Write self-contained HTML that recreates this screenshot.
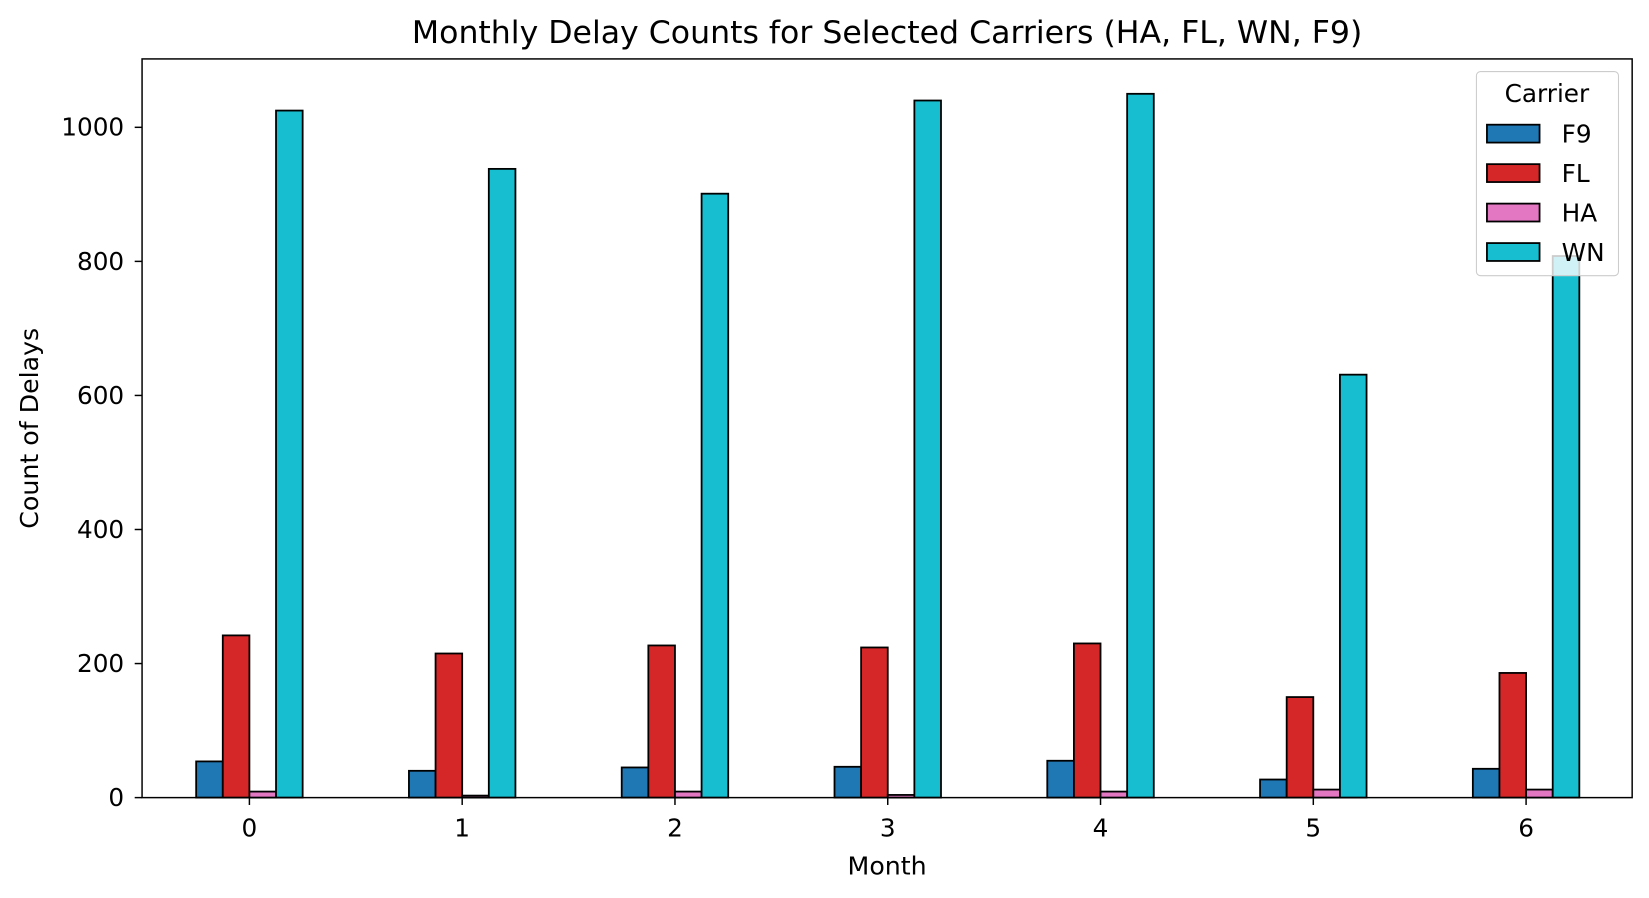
<!DOCTYPE html>
<html><head><meta charset="utf-8"><style>
body{margin:0;background:#fff;overflow:hidden}
svg{display:block;font-family:"DejaVu Sans","Liberation Sans",sans-serif}
</style></head><body>
<svg id="chart" width="1649" height="898" viewBox="0 0 1567 853.4" preserveAspectRatio="none">
<text x="843" y="41" text-anchor="middle" font-size="30">Monthly Delay Counts for Selected Carriers (HA, FL, WN, F9)</text>
<g id="bars"></g>
<rect x="135" y="56" width="1416" height="702" fill="none" stroke="#000" stroke-width="1.4"/>
<g id="axes" font-size="23.5"></g>
<text x="843" y="831" text-anchor="middle" font-size="24">Month</text>
<text transform="translate(36,407) rotate(-90)" text-anchor="middle" font-size="24">Count of Delays</text>
<g id="legend"></g>
</svg>
<script>
const categories = ["0","1","2","3","4","5","6"];
const carriers = ["F9","FL","HA","WN"];
const f9 = [54, 40, 45, 46, 55, 27, 43];
const fl = [242, 215, 227, 224, 230, 150, 186];
const ha = [9, 3, 9, 4, 9, 12, 12];
const wn = [1025, 938, 901, 1040, 1050, 631, 808];
const yTicks = [0, 200, 400, 600, 800, 1000];
const series = [f9, fl, ha, wn];
const colors = ["#1f77b4","#d62728","#e377c2","#17becf"];
const NS = "http://www.w3.org/2000/svg";
const x0 = 237, xStep = 202.2, yBase = 758, yScale = 0.637;
const xPos = i => x0 + i * xStep;
const yPos = v => yBase - v * yScale;
const bw = 25.3;
const bars = document.getElementById('bars');
series.forEach((s, k) => {
  s.forEach((v, i) => {
    const r = document.createElementNS(NS, 'rect');
    const x = xPos(i) + (k - 2) * bw;
    r.setAttribute('x', x); r.setAttribute('y', yPos(v));
    r.setAttribute('width', bw); r.setAttribute('height', yBase - yPos(v));
    r.setAttribute('fill', colors[k]); r.setAttribute('stroke', '#000'); r.setAttribute('stroke-width', '1.7');
    
    
    bars.appendChild(r);
  });
});
const axes = document.getElementById('axes');
categories.forEach((c, i) => {
  const t = document.createElementNS(NS, 'line');
  t.setAttribute('x1', xPos(i)); t.setAttribute('x2', xPos(i)); t.setAttribute('y1', 758); t.setAttribute('y2', 765);
  t.setAttribute('stroke', '#000'); t.setAttribute('stroke-width', '1.4');
  
  
  axes.appendChild(t);
  const l = document.createElementNS(NS, 'text');
  l.setAttribute('x', xPos(i)); l.setAttribute('y', 795); l.setAttribute('text-anchor', 'middle');
  l.textContent = c;
  
  
  axes.appendChild(l);
});
yTicks.forEach(v => {
  const t = document.createElementNS(NS, 'line');
  t.setAttribute('x1', 128); t.setAttribute('x2', 135); t.setAttribute('y1', yPos(v)); t.setAttribute('y2', yPos(v));
  t.setAttribute('stroke', '#000'); t.setAttribute('stroke-width', '1.4');
  
  
  axes.appendChild(t);
  const l = document.createElementNS(NS, 'text');
  l.setAttribute('x', 118); l.setAttribute('y', yPos(v) + 8); l.setAttribute('text-anchor', 'end');
  l.textContent = v;
  
  
  axes.appendChild(l);
});
const lg = document.getElementById('legend');
lg.innerHTML = '<rect x="1403" y="68" width="135" height="194" rx="4" fill="#fff" fill-opacity="0.8" stroke="#ccc"/>' +
  '<text x="1470" y="97" text-anchor="middle" font-size="23.5">Carrier</text>';
carriers.forEach((c, k) => {
  const y = 127 + k * 37.5;
  const r = document.createElementNS(NS, 'rect');
  r.setAttribute('x', 1413); r.setAttribute('y', y - 8.5); r.setAttribute('width', 50); r.setAttribute('height', 17);
  r.setAttribute('fill', colors[k]); r.setAttribute('stroke', '#000'); r.setAttribute('stroke-width', '1.7');
  
  
  lg.appendChild(r);
  const t = document.createElementNS(NS, 'text');
  t.setAttribute('x', 1484); t.setAttribute('y', y + 8.5); t.setAttribute('font-size', '23.5');
  t.textContent = c;
  
  
  lg.appendChild(t);
});
</script>
</body></html>
